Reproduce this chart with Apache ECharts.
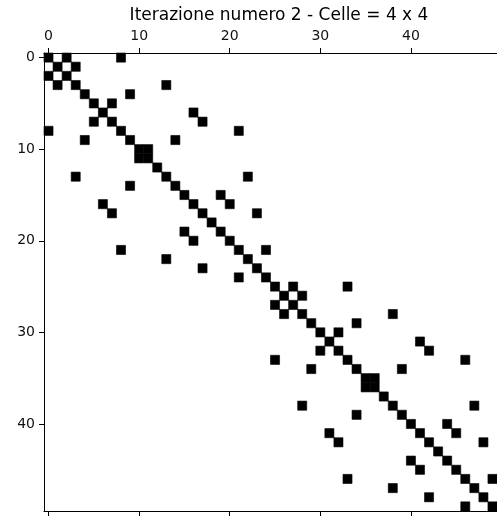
<!DOCTYPE html>
<html>
<head>
<meta charset="utf-8">
<script src="https://cdn.jsdelivr.net/npm/echarts@6/dist/echarts.min.js"></script>
<style>
    html, body { margin: 0; padding: 0; background: #fff; }
    #spy { width: 497px; height: 518px; }
</style>
</head>
<body>
<div id="spy"></div>
<script>
var titleText = "Iterazione numero 2 - Celle = 4 x 4";
var matrixSize = 50;
var tickValues = [0, 10, 20, 30, 40];
// colonne non nulle per ogni riga della matrice
var rowCols = [
    [0, 2, 8], [1, 3], [0, 2], [1, 3, 13], [4, 9],
    [5, 7], [6, 16], [5, 7, 17], [0, 8, 21], [4, 9, 14],
    [10, 11], [10, 11], [12], [3, 13, 22], [9, 14],
    [15, 19], [6, 16, 20], [7, 17, 23], [18], [15, 19],
    [16, 20], [8, 21, 24], [13, 22], [17, 23], [21, 24],
    [25, 27, 33], [26, 28], [25, 27], [26, 28, 38], [29, 34],
    [30, 32], [31, 41], [30, 32, 42], [25, 33, 46], [29, 34, 39],
    [35, 36], [35, 36], [37], [28, 38, 47], [34, 39],
    [40, 44], [31, 41, 45], [32, 42, 48], [43], [40, 44],
    [41, 45], [33, 46, 49], [38, 47], [42, 48], [46, 49]
];

(function () {
    var myChart = echarts.init(document.getElementById('spy'));

    var cells = [];
    rowCols.forEach(function (cols, r) {
        cols.forEach(function (c) {
            cells.push([c, r]);
        });
    });

    var lineStyle = { color: '#000', width: 1 };
    var labelStyle = { color: '#111', fontSize: 14, fontFamily: 'DejaVu Sans' };

    var option = {
        backgroundColor: '#fff',
        animation: false,
        title: {
            text: titleText,
            left: 274,
            top: 2,
            textAlign: 'center',
            textStyle: {
                color: '#000',
                fontSize: 17,
                fontWeight: 'normal',
                fontFamily: 'DejaVu Sans'
            }
        },
        grid: {
            left: 44,
            top: 53,
            right: -7,
            bottom: 7,
            containLabel: false
        },
        xAxis: [
            {
                type: 'value',
                position: 'top',
                min: -0.5,
                max: matrixSize - 0.5,
                axisLine: { show: true, onZero: false, lineStyle: lineStyle },
                axisTick: { show: true, length: 5, lineStyle: lineStyle, customValues: tickValues },
                axisLabel: Object.assign({ margin: 10, customValues: tickValues }, labelStyle),
                splitLine: { show: false }
            },
            {
                type: 'value',
                position: 'bottom',
                min: -0.5,
                max: matrixSize - 0.5,
                axisLine: { show: true, onZero: false, lineStyle: lineStyle },
                axisTick: { show: true, length: 5, lineStyle: lineStyle, customValues: tickValues },
                axisLabel: { show: false },
                splitLine: { show: false }
            }
        ],
        yAxis: {
            type: 'value',
            inverse: true,
            min: -0.5,
            max: matrixSize - 0.5,
            axisLine: { show: true, onZero: false, lineStyle: lineStyle },
            axisTick: { show: true, length: 5, lineStyle: lineStyle, customValues: tickValues },
            axisLabel: Object.assign({ margin: 9, customValues: tickValues }, labelStyle),
            splitLine: { show: false }
        },
        series: [
            {
                type: 'custom',
                xAxisIndex: 0,
                yAxisIndex: 0,
                data: cells,
                renderItem: function (params, api) {
                    var p = api.coord([api.value(0), api.value(1)]);
                    var s = api.size([1, 1]);
                    return {
                        type: 'rect',
                        shape: { x: p[0] - s[0] / 2, y: p[1] - s[1] / 2, width: s[0], height: s[1] },
                        style: { fill: '#000', stroke: '#000', lineWidth: 0.6 }
                    };
                }
            }
        ]
    };

    myChart.setOption(option);
    window.addEventListener("resize", function () {
        myChart.resize();
    });
})();
</script>
</body>
</html>
